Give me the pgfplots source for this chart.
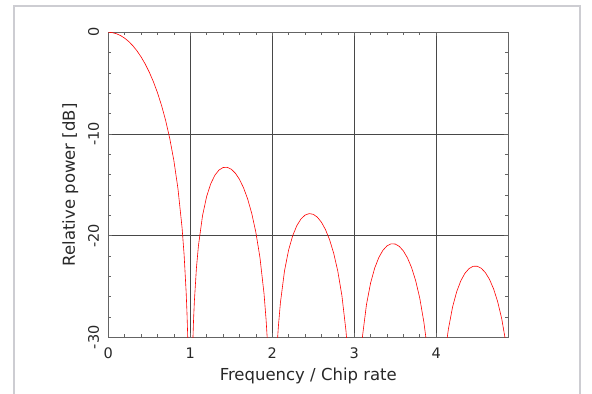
\documentclass[border=0pt]{standalone}
\usepackage{fontspec}
\setmainfont{DejaVu Sans}
\usepackage{pgfplots}
\pgfplotsset{compat=1.18}
\definecolor{framegray}{RGB}{205,205,210}
\definecolor{axisgray}{RGB}{100,100,100}
\definecolor{textgray}{RGB}{40,40,40}
\begin{document}
\begin{tikzpicture}
\useasboundingbox (-108.3bp,-56.7bp) rectangle (483.7bp,337.3bp);
% outer panel frame
\draw[line width=2bp, framegray] (-94.3bp,-80bp) -- (-94.3bp,331.6bp) -- (471.7bp,331.6bp) -- (471.7bp,-80bp);
\begin{axis}[
  at={(0bp,0bp)}, anchor=south west,
  scale only axis, width=400bp, height=305bp,
  xmin=0, xmax=4.88, ymin=-30, ymax=0,
  xtick={0,1,2,3,4}, xticklabels={0,1,2,3,4},
  ytick={-30,-20,-10,0}, yticklabels={-30,-20,-10,0},
  minor x tick num=4, minor y tick num=4,
  xtick pos=both, ytick pos=both,
  tick align=inside,
  major tick length=4bp, minor tick length=3bp,
  grid=major,
  major grid style={color=black!72, line width=0.8bp},
  axis line style={axisgray, line width=0.8bp},
  every tick/.style={axisgray, line width=0.6bp},
  every tick label/.append style={textgray, font=\fontsize{14.5bp}{17bp}\selectfont},
  yticklabel style={rotate=90, anchor=south, inner sep=0pt, yshift=9bp},
  xticklabel style={anchor=north, inner sep=0pt, yshift=-10bp},
  xlabel={Frequency / Chip rate},
  ylabel={Relative power [dB]},
  every axis x label/.style={at={(axis description cs:0.5,0)}, anchor=base, yshift=-43.5bp, textgray, font=\fontsize{16.5bp}{19bp}\selectfont},
  every axis y label/.style={at={(axis description cs:0,0.5)}, rotate=90, anchor=base, yshift=33.3bp, textgray, font=\fontsize{16.5bp}{19bp}\selectfont},
]
\addplot[red, line width=0.6bp, no markers] coordinates {
(0,0) (0.05,-0.0358) (0.1,-0.1434) (0.15,-0.3239) (0.2,-0.5792) (0.25,-0.9121)
(0.3,-1.3263) (0.35,-1.8268) (0.4,-2.4201) (0.45,-3.1149) (0.5,-3.9224)
(0.55,-4.8578) (0.6,-5.9419) (0.65,-7.2037) (0.7,-8.6859) (0.75,-10.4545)
(0.8,-12.6205) (0.85,-15.3905) (0.9,-19.2282) (0.925,-21.902) (0.95,-25.611)
(0.96,-27.627) (0.97,-30.206) (0.98,-33.81)
(1.02,-34.157) (1.03,-30.728) (1.04,-28.322) (1.05,-26.480) (1.075,-23.208)
(1.1,-20.971) (1.15,-18.016) (1.2,-16.142) (1.25,-14.892) (1.3,-14.063)
(1.35,-13.552) (1.4,-13.301) (1.45,-13.278) (1.5,-13.465) (1.55,-13.857)
(1.6,-14.461) (1.65,-15.295) (1.7,-16.393) (1.75,-17.814) (1.8,-19.664)
(1.85,-22.145) (1.9,-25.718) (1.925,-28.268) (1.94,-30.245) (1.96,-33.83)
(2.04,-34.17) (2.06,-30.767) (2.075,-28.920) (2.1,-26.588) (2.15,-23.451)
(2.2,-21.407) (2.25,-19.997) (2.3,-19.018) (2.35,-18.367) (2.4,-17.983)
(2.45,-17.834) (2.5,-17.902) (2.55,-18.181) (2.6,-18.678) (2.65,-19.410)
(2.7,-20.411) (2.75,-21.740) (2.8,-23.502) (2.85,-25.899) (2.9,-29.391)
(2.925,-31.902)
(3.075,-32.336) (3.1,-29.971) (3.15,-26.768) (3.2,-24.662) (3.25,-23.191)
(3.3,-22.154) (3.35,-21.446) (3.4,-21.009) (3.45,-20.807) (3.5,-20.824)
(3.55,-21.055) (3.6,-21.505) (3.65,-22.191) (3.7,-23.148) (3.75,-24.434)
(3.8,-26.154) (3.85,-28.511) (3.875,-30.052) (3.9,-31.965)
(4.1,-32.399) (4.125,-30.595) (4.15,-29.163) (4.2,-27.024) (4.25,-25.521)
(4.3,-24.453) (4.35,-23.715) (4.4,-23.248) (4.45,-23.018) (4.5,-23.007)
(4.55,-23.211) (4.6,-23.634) (4.65,-24.294) (4.7,-25.226) (4.75,-26.487)
(4.8,-28.183) (4.85,-30.517) (4.88,-32.39)
};
\end{axis}
\end{tikzpicture}
\end{document}
